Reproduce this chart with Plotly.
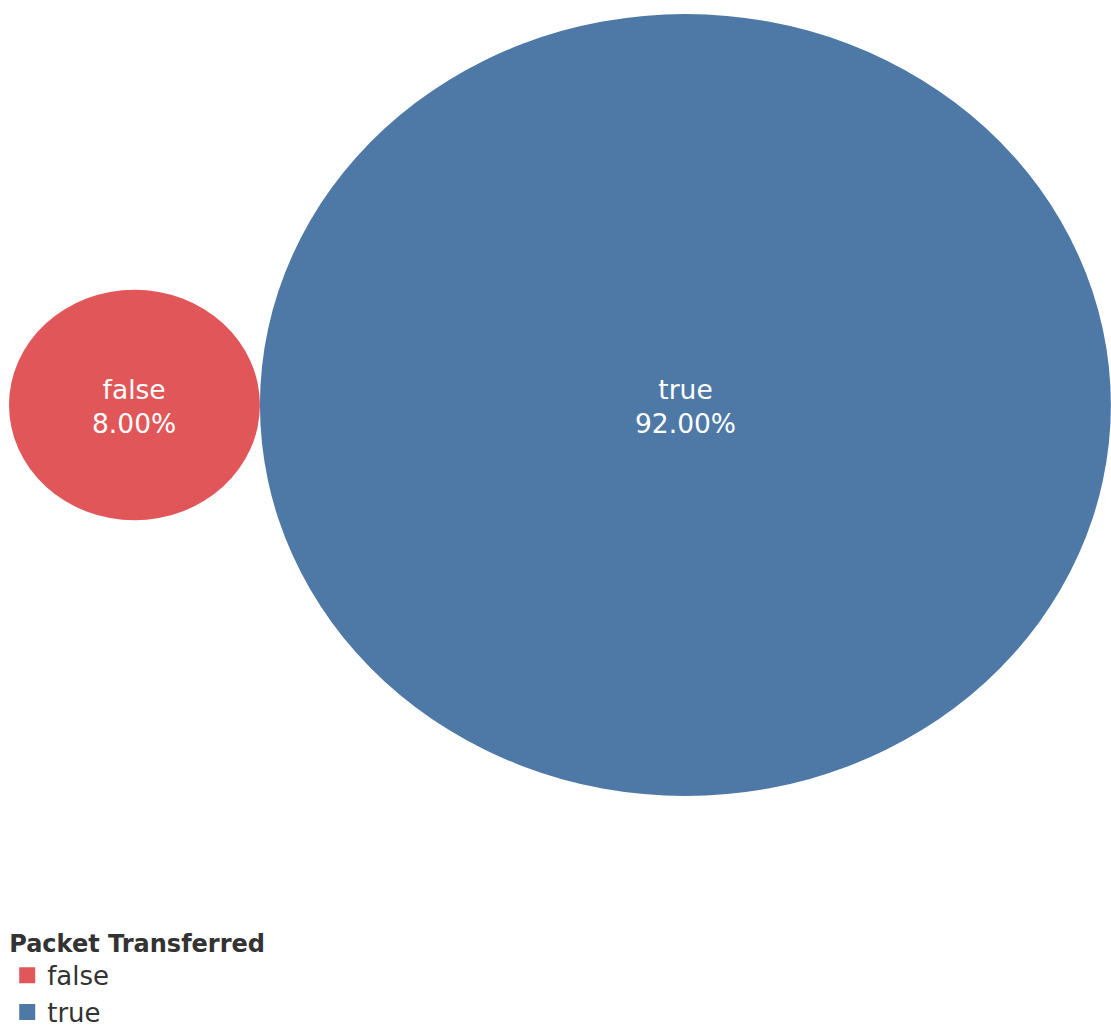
import math
import plotly.graph_objects as go

# Share of packets by transfer status
categories = ["false", "true"]
shares = [8.00, 92.00]
colors = ["#E15759", "#4E79A7"]

W, H = 1111, 1028

# Bubble radius proportional to sqrt(share); bubbles packed side by side on y = 0
radii = [math.sqrt(s) for s in shares]
centers = []
x_cursor = 0.0
for r in radii:
    centers.append(x_cursor + r)
    x_cursor += 2 * r

# Axis scaling: the view is stretched horizontally like the dashboard tile
px_per_x = 44.36
px_per_y = 40.76
left_px, center_y_px = 9, 405
x_range = [-left_px / px_per_x, (W - left_px) / px_per_x]
y_range = [-(H - center_y_px) / px_per_y, center_y_px / px_per_y]

fig = go.Figure()

shapes = []
annotations = []
for cat, share, col, cx, r in zip(categories, shares, colors, centers, radii):
    shapes.append(dict(
        type="circle", xref="x", yref="y",
        x0=cx - r, x1=cx + r, y0=-r, y1=r,
        fillcolor=col, line=dict(width=0), layer="below",
    ))
    annotations.append(dict(
        x=cx, y=0, xref="x", yref="y", yshift=-1,
        text=f"{cat}<br>{share:.2f}%",
        showarrow=False,
        font=dict(family="DejaVu Sans", size=26.5, color="white"),
        align="center",
    ))
    # legend entry
    fig.add_trace(go.Scatter(
        x=[None], y=[None], mode="markers", name=cat,
        marker=dict(symbol="square", size=16, color=col),
    ))

fig.update_layout(
    width=W, height=H,
    margin=dict(l=0, r=0, t=0, b=0, autoexpand=False),
    paper_bgcolor="white", plot_bgcolor="white",
    shapes=shapes,
    annotations=annotations,
    xaxis=dict(range=x_range, visible=False, fixedrange=True),
    yaxis=dict(range=y_range, visible=False, fixedrange=True),
    showlegend=True,
    legend=dict(
        title=dict(text="<b>Packet Transferred</b>",
                   font=dict(family="DejaVu Sans", size=24, color="#333333")),
        font=dict(family="DejaVu Sans", size=26, color="#333333"),
        x=0.0065, y=-0.0075, xanchor="left", yanchor="bottom",
        bgcolor="rgba(0,0,0,0)",
        tracegroupgap=0,
    ),
)

fig.write_html("out.html")
